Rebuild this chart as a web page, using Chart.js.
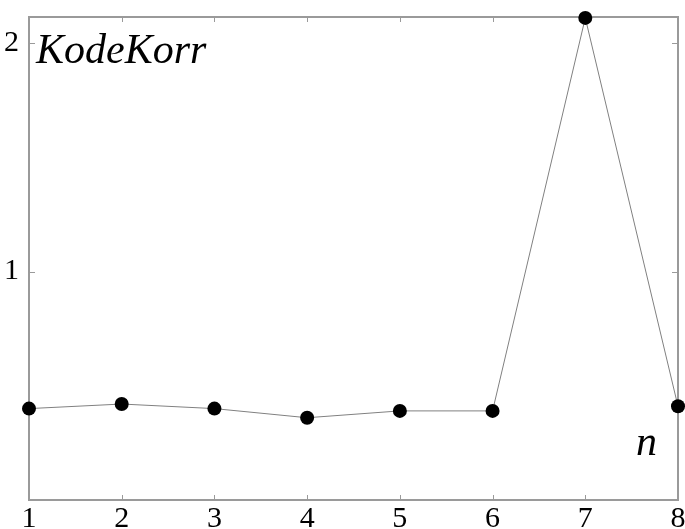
<!DOCTYPE html>
<html>
<head>
<meta charset="utf-8">
<script src="https://cdn.jsdelivr.net/npm/chart.js@4"></script>
<style>
  html, body { margin: 0; padding: 0; background: #fff; }
  #wrap { width: 685px; height: 529px; }
</style>
</head>
<body>
<div id="wrap"><canvas id="myChart" width="685" height="529"></canvas></div>
<script>
const nValues = [1, 2, 3, 4, 5, 6, 7, 8]; // x-axis: n
const kodeKorr = [0.40, 0.42, 0.40, 0.36, 0.39, 0.39, 2.11, 0.41]; // y values
const yTicks = [1, 2];
const xTicks = [1, 2, 3, 4, 5, 6, 7, 8];

const serif = '"Liberation Serif", "Times New Roman", Times, serif';

// box around the plot with small ticks pointing inward
const boxPlugin = {
    id: 'box',
    beforeDatasetsDraw(chart) {
        const { ctx, chartArea: a, scales } = chart;
        ctx.save();
        ctx.strokeStyle = '#9a9a9a';
        ctx.lineWidth = 2;
        ctx.strokeRect(a.left, a.top, a.right - a.left, a.bottom - a.top);
        ctx.lineWidth = 1;
        ctx.beginPath();
        xTicks.forEach(v => {
            const x = Math.round(scales.x.getPixelForValue(v)) + 0.5;
            ctx.moveTo(x, a.bottom); ctx.lineTo(x, a.bottom - 5);
            ctx.moveTo(x, a.top); ctx.lineTo(x, a.top + 5);
        });
        yTicks.forEach(v => {
            const y = Math.round(scales.y.getPixelForValue(v)) + 0.5;
            ctx.moveTo(a.left, y); ctx.lineTo(a.left + 6, y);
            ctx.moveTo(a.right, y); ctx.lineTo(a.right - 6, y);
        });
        ctx.stroke();
        ctx.restore();
    },
    afterDraw(chart) {
        const { ctx, chartArea: a } = chart;
        ctx.save();
        ctx.fillStyle = '#000';
        ctx.font = 'italic 42px ' + serif;
        ctx.textBaseline = 'alphabetic';
        ctx.fillText('KodeKorr', a.left + 7, a.top + 46);
        ctx.fillText('n', a.right - 42, a.bottom - 45);
        ctx.restore();
    }
};

const ctx = document.getElementById('myChart').getContext('2d');
const myChart = new Chart(ctx, {
    type: 'line',
    data: {
        datasets: [{
            label: 'KodeKorr',
            data: nValues.map((n, i) => ({ x: n, y: kodeKorr[i] })),
            borderColor: '#808080',
            borderWidth: 1,
            pointRadius: 7,
            pointBackgroundColor: '#000',
            pointBorderColor: '#000',
            pointBorderWidth: 0,
            tension: 0
        }]
    },
    options: {
        responsive: false,
        animation: false,
        clip: false,
        layout: { padding: { top: 17, right: 7, left: 0, bottom: 0 } },
        plugins: { legend: { display: false }, tooltip: { enabled: false } },
        scales: {
            x: {
                type: 'linear',
                min: 1,
                max: 8,
                afterBuildTicks: s => { s.ticks = xTicks.map(v => ({ value: v })); },
                afterFit: s => { s.height = 29; },
                grid: { display: false },
                border: { display: false },
                ticks: {
                    color: '#000',
                    padding: -7,
                    maxRotation: 0,
                    font: { family: serif, size: 30 }
                }
            },
            y: {
                min: 0,
                max: 2.114,
                afterBuildTicks: s => { s.ticks = yTicks.map(v => ({ value: v })); },
                afterFit: s => { s.width = 29; },
                grid: { display: false },
                border: { display: false },
                ticks: {
                    color: '#000',
                    padding: 2,
                    font: { family: serif, size: 30, lineHeight: 0.9 }
                }
            }
        }
    },
    plugins: [boxPlugin]
});
</script>
</body>
</html>
